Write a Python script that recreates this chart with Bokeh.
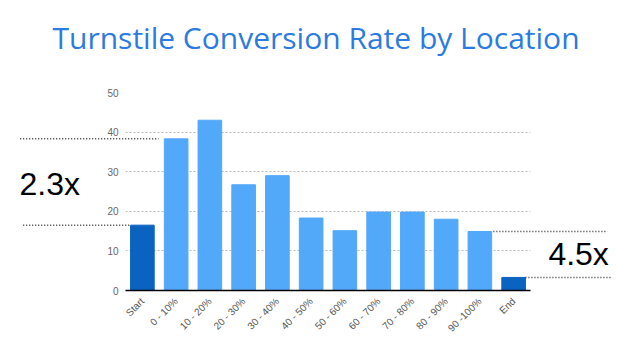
from math import pi
from bokeh.plotting import figure
from bokeh.models import Range1d, FixedTicker, ColumnDataSource, Title
from bokeh.core.properties import value
from bokeh.embed import file_html
from bokeh.resources import INLINE

# ---- data ----
categories = ["Start", "0 - 10%", "10 - 20%", "20 - 30%", "30 - 40%", "40 - 50%",
              "50 - 60%", "60 - 70%", "70 - 80%", "80 - 90%", "90 -100%", "End"]
values = [16.5, 38.3, 43.0, 26.7, 29.0, 18.3, 15.1, 19.8, 19.8, 18.0, 14.9, 3.3]
y_ticks = [0, 10, 20, 30, 40, 50]
ratio_labels = ["2.3x", "4.5x"]

LIGHT = "#52a8f9"
DARK = "#0b63c1"
colors = [DARK if c in ("Start", "End") else LIGHT for c in categories]

src = ColumnDataSource(dict(cat=categories, val=values, color=colors))

p = figure(width=629, height=352, x_range=categories, y_range=Range1d(0, 50),
           output_backend="svg", toolbar_location=None,
           min_border_left=125, min_border_right=99, min_border_top=92, min_border_bottom=62,
           title="Turnstile Conversion Rate by Location")
p.outline_line_color = None
p.background_fill_color = "white"
p.border_fill_color = "white"

p.vbar(x="cat", top="val", width=0.7, color="color", source=src)

# spacer between frame and title
p.add_layout(Title(text=" ", text_font_size="1px", standoff=32), "above")

# title
p.title.text_font = "Open Sans"
p.title.text_font_size = "30px"
p.title.text_font_style = "normal"
p.title.text_color = "#2b7be0"
p.title.align = "left"
p.title.vertical_align = "bottom"
p.title.offset = -73
p.title.standoff = 0

# y axis
p.yaxis.ticker = FixedTicker(ticks=y_ticks)
p.yaxis.axis_line_color = None
p.yaxis.major_tick_line_color = None
p.yaxis.minor_tick_line_color = None
p.yaxis.major_tick_out = 0
p.yaxis.major_tick_in = 0
p.yaxis.major_label_standoff = 7
p.yaxis.major_label_text_font = "Liberation Sans"
p.yaxis.major_label_text_font_size = "10px"
p.yaxis.major_label_text_color = "#666666"

# x axis
p.xaxis.axis_line_color = "black"
p.xaxis.axis_line_width = 1.5
p.xaxis.major_tick_line_color = None
p.xaxis.major_tick_out = 0
p.xaxis.major_tick_in = 0
p.xaxis.major_label_orientation = pi / 4
p.xaxis.major_label_standoff = 9
p.xaxis.major_label_text_font = "Liberation Sans"
p.xaxis.major_label_text_font_size = "10px"
p.xaxis.major_label_text_color = "#555555"

p.xgrid.grid_line_color = None
p.ygrid.grid_line_color = "#bbbbbb"
p.ygrid.grid_line_dash = "2 2"
p.ygrid.grid_line_width = 1

# ratio annotations (dotted guide lines), drawn above the frame clip
guide_src = ColumnDataSource(dict(
    x0=[-3.12, -3.03, 10.9, 11.85],
    x1=[0.98, 0.15, 14.28, 14.43],
    y=[values[1], values[0], values[10], values[11]],
))
seg = p.segment(x0="x0", y0="y", x1="x1", y1="y", source=guide_src,
                line_color="#333333", line_width=1.5, line_dash="1 2")
seg.level = "overlay"

lab_src = ColumnDataSource(dict(x=[-3.14, 12.53], y=[26.9, 9.1], text=ratio_labels))
txt = p.text(x="x", y="y", text="text", source=lab_src, text_font=value("Liberation Sans"),
             text_font_size="32px", text_color="black", text_baseline="middle")
txt.level = "overlay"

open("out.html", "w").write(file_html(p, INLINE))
